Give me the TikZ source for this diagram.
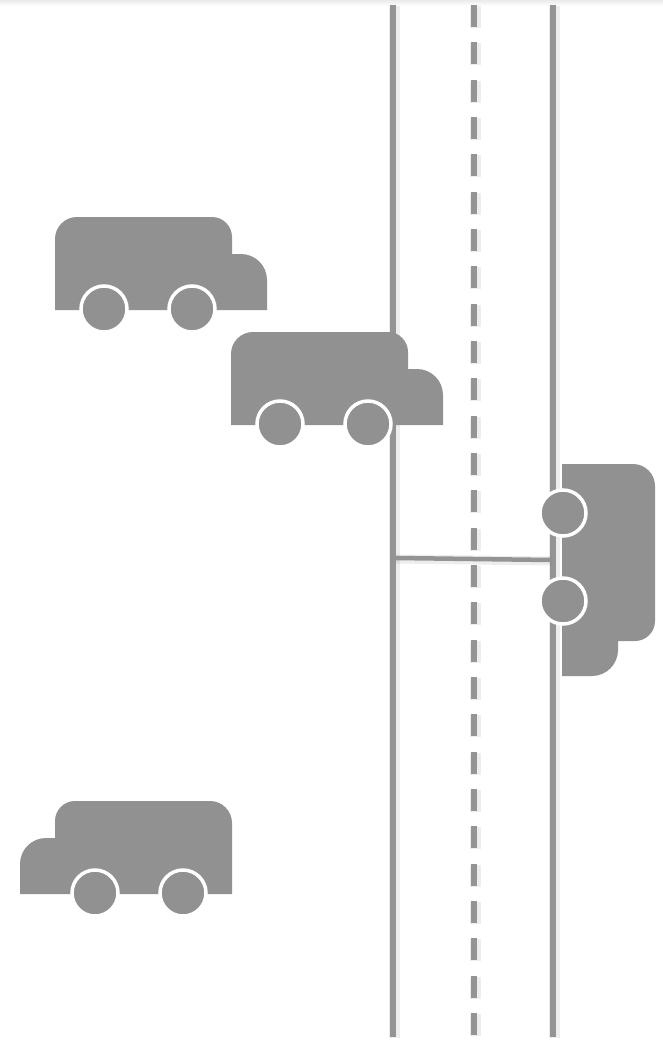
\documentclass[tikz,border=0pt]{standalone}
\begin{document}
\definecolor{truckgray}{RGB}{145,145,145}
\definecolor{linegray}{RGB}{148,148,148}
\tikzset{
  roadline/.style={draw=linegray, line width=5.5pt},
  roadglow/.style={draw=black, opacity=0.07, line width=11pt},
  lanedash/.style={roadline, dash pattern=on 22pt off 15.33pt},
  truckbody/.style={fill=truckgray},
  wheel/.style={fill=truckgray, draw=white, line width=3.5pt},
  pics/truck/.style={code={
    % cargo box and cab, origin at the upper rear corner of the box
    \path[truckbody] (0,93) -- (0,22) arc[start angle=180, end angle=270, radius=22]
      -- (157,0) arc[start angle=270, end angle=360, radius=20]
      -- (177,37) -- (186,37) arc[start angle=270, end angle=360, radius=26]
      -- (212,93) -- cycle;
    \path[wheel] (49,92) circle[radius=23];
    \path[wheel] (137,92) circle[radius=23];
  }}
}
\begin{tikzpicture}[x=1pt, y=-1pt]
\useasboundingbox (0,0) rectangle (663,1042);
\fill[white] (0,0) rectangle (663,1042);
\shade[top color=black!8, bottom color=white] (0,0) rectangle (663,6);

% road edges and centre lane
\coordinate (leftTop) at (393,5);
\coordinate (leftBot) at (393,1037);
\coordinate (midTop) at (474,5);
\coordinate (midBot) at (474,1037);
\coordinate (rightTop) at (553,5);
\coordinate (rightBot) at (553,1037);
\coordinate (linkL) at (396,558);
\coordinate (linkR) at (551,560);

\foreach \a/\b in {leftTop/leftBot, rightTop/rightBot}{
  \draw[roadglow] ([shift={(1,1)}]\a) -- ([shift={(1,1)}]\b);
  \draw[roadline] (\a) -- (\b);
}
\draw[roadglow, dash pattern=on 22pt off 15.33pt] ([shift={(1,1)}]midTop) -- ([shift={(1,1)}]midBot);
\draw[lanedash] (midTop) -- (midBot);
\draw[roadglow, line width=9pt] ([shift={(0,1)}]linkL) -- ([shift={(0,1)}]linkR);
\draw[roadline, line width=4.5pt] (linkL) -- (linkR);

% trucks
\pic at (55,217) {truck};
\pic at (231,332) {truck};
\pic[xscale=-1] at (232,801) {truck};
\pic[rotate=-90] at (655,464) {truck};
\end{tikzpicture}
\end{document}
